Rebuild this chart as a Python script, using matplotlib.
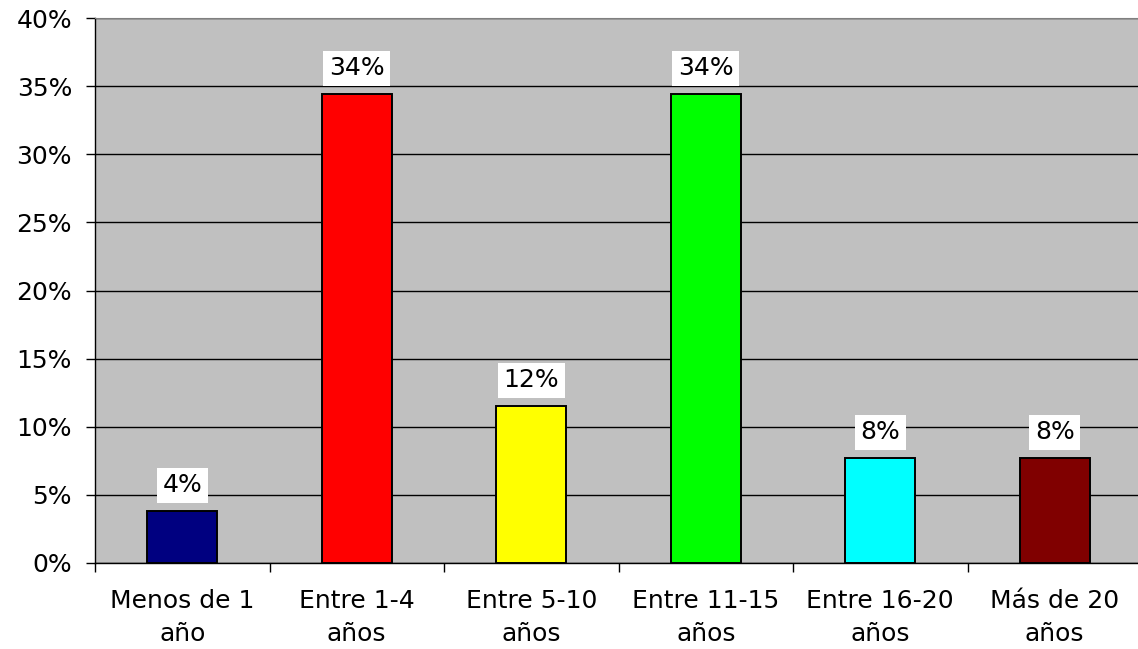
import matplotlib
matplotlib.use("Agg")
import matplotlib.pyplot as plt
from matplotlib.ticker import FixedLocator, PercentFormatter

categories = ["Menos de 1\naño", "Entre 1-4\naños", "Entre 5-10\naños",
              "Entre 11-15\naños", "Entre 16-20\naños", "Más de 20\naños"]
values = [0.038, 0.344, 0.115, 0.344, 0.077, 0.077]
colors = ["#000080", "#FF0000", "#FFFF00", "#00FF00", "#00FFFF", "#800000"]
y_ticks = [0.0, 0.05, 0.10, 0.15, 0.20, 0.25, 0.30, 0.35, 0.40]

plt.rcParams["font.family"] = ["DejaVu Sans"]
FS = 18

fig = plt.figure(figsize=(11.38, 6.49), dpi=100)
ax = fig.add_axes([95 / 1138, 1 - 563 / 649, 1047 / 1138, 545 / 649])
ax.set_facecolor("#C0C0C0")

x = list(range(len(categories)))
ax.bar(x, values, width=0.4, color=colors, edgecolor="black", linewidth=1.4, zorder=3)

for xi, v in zip(x, values):
    ax.annotate(f"{v:.0%}", (xi, v), xytext=(0, 10), textcoords="offset points",
                ha="center", va="bottom", fontsize=FS, zorder=5,
                bbox=dict(boxstyle="square,pad=0.22", fc="white", ec="none"))

ax.set_xlim(-0.5, len(categories) - 0.5)
ax.set_ylim(0, 0.40)
ax.yaxis.set_major_locator(FixedLocator(y_ticks))
ax.yaxis.set_major_formatter(PercentFormatter(1.0, decimals=0))
ax.grid(axis="y", color="black", linewidth=1.0, zorder=1)
ax.set_axisbelow(True)

# category labels centred under the bars, tick marks on the category borders
ax.set_xticks(x)
ax.set_xticklabels(categories, fontsize=FS, linespacing=1.45)
ax.tick_params(axis="x", which="major", length=0, pad=19)
ax.set_xticks([i - 0.5 for i in range(len(categories) + 1)], minor=True)
ax.tick_params(axis="x", which="minor", length=6.5, width=1, color="black")
ax.tick_params(axis="y", length=6.5, width=1, color="black", labelsize=FS, pad=10)

for side in ("left", "bottom"):
    ax.spines[side].set_color("black")
    ax.spines[side].set_linewidth(1.0)
ax.spines["top"].set_color("#808080")
ax.spines["right"].set_visible(False)

fig.savefig("out.png", dpi=100, facecolor="white")
